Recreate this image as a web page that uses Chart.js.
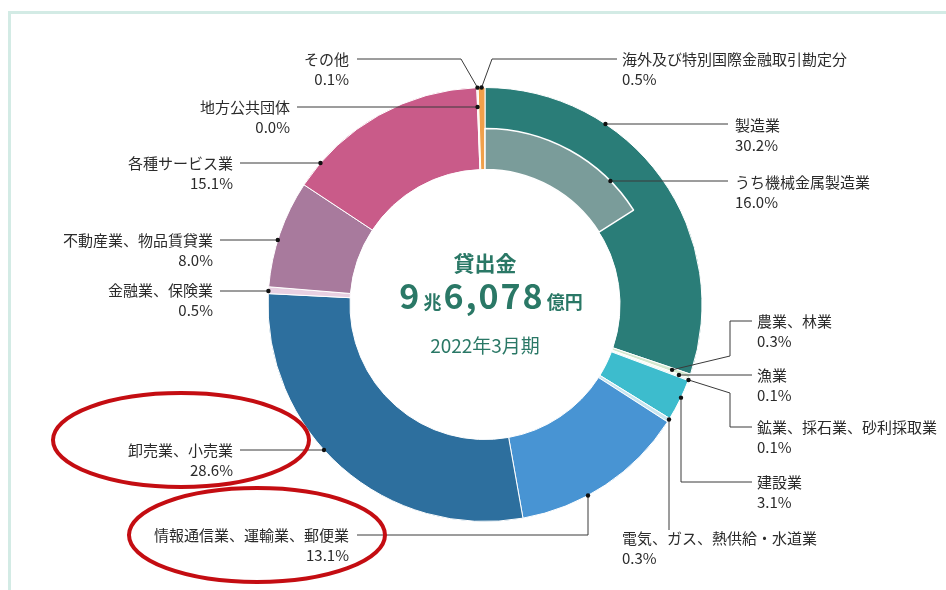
<!DOCTYPE html>
<html lang="ja">
<head>
<meta charset="utf-8">
<title>貸出金 業種別構成比</title>
<script src="https://cdn.jsdelivr.net/npm/chart.js@4.4.1/dist/chart.umd.min.js"></script>
<style>
  html, body { margin: 0; padding: 0; background: #fff; }
  #wrap { position: relative; width: 946px; height: 590px; overflow: hidden; }
  #frame { position: absolute; left: 8px; top: 11px; width: 980px; height: 620px; border: 3px solid #d3ebe5; }
  canvas { position: absolute; left: 0; top: 0; }
</style>
</head>
<body>
<div id="wrap">
  <div id="frame"></div>
  <canvas id="kashidashi" width="946" height="590"></canvas>
</div>
<script>
// 業種 (時計回り、真上から)
var gyoshu = [
  "製造業",
  "農業、林業",
  "漁業",
  "鉱業、採石業、砂利採取業",
  "建設業",
  "電気、ガス、熱供給・水道業",
  "情報通信業、運輸業、郵便業",
  "卸売業、小売業",
  "金融業、保険業",
  "不動産業、物品賃貸業",
  "各種サービス業",
  "地方公共団体",
  "その他",
  "海外及び特別国際金融取引勘定分"
]
var kousei = [30.2, 0.3, 0.1, 0.1, 3.1, 0.3, 13.1, 28.6, 0.5, 8.0, 15.1, 0.0, 0.1, 0.5]
var iro = [
  "#2a7d78", "#d3e8cf", "#e6ebc8", "#cde6dc", "#3dbccd", "#c8e6f0", "#4894d3",
  "#2d6f9e", "#e8d0e2", "#a87a9d", "#c95b89", "#f2d5e2", "#f6e4d8", "#f0a04a"
]

// 製造業のうち
var uchiLabel = "うち機械金属製造業"
var uchiValue = 16.0
var uchiIro = "#7a9c9a"

// 中央の表示
var midashi = "貸出金"
var kingaku = [["9", "big"], ["兆", "small"], ["6,078", "big"], ["億円", "small"]]
var kikan = "2022年3月期"

var total = kousei.reduce(function (a, b) { return a + b }, 0)

// ring sizes (px)
var R_SOTO = 217
var R_UCHI = 176
var R_ANA = 135

var FONT = '"Noto Sans CJK JP", "Noto Sans", sans-serif'
var MIDORI = "#2a7866"

// callouts: where the dot sits and how the line runs to the text
var hikidashi = [
  { i: 0, ten: ["h", 124], michi: [[728, 124]], x: 735, y: 125, align: "left" },
  { i: "uchi", ten: ["h", 181], michi: [[728, 181]], x: 735, y: 182, align: "left" },
  { i: 1, ten: ["ray", 0.77], michi: [[730, 356], [730, 321], [752, 321]], x: 757, y: 321, align: "left" },
  { i: 2, ten: ["rayH", 375], michi: [[752, 375]], x: 757, y: 375, align: "left" },
  { i: 3, ten: ["ray", 1], michi: [[730, 393], [730, 427], [752, 427]], x: 757, y: 427, align: "left" },
  { i: 4, ten: ["v", 681], michi: [[681, 482], [752, 482]], x: 757, y: 482, align: "left" },
  { i: 5, ten: ["v", 669], michi: [[669, 530]], x: 622, y: 538, align: "left" },
  { i: 6, ten: ["v", 588], michi: [[588, 535], [357, 535]], x: 349, y: 535, align: "right" },
  { i: 7, ten: ["h", 450], michi: [[240, 450]], x: 233, y: 450, align: "right" },
  { i: 8, ten: ["h", 291], michi: [[220, 291]], x: 213, y: 290, align: "right" },
  { i: 9, ten: ["h", 240], michi: [[220, 240]], x: 213, y: 240, align: "right" },
  { i: 10, ten: ["h", 163], michi: [[240, 163]], x: 233, y: 163, align: "right" },
  { i: 11, ten: ["rayH", 107], michi: [[297, 107]], x: 290, y: 107, align: "right" },
  { i: 12, ten: ["ray", 1], michi: [[461, 59], [357, 59]], x: 349, y: 59, align: "right" },
  { i: 13, ten: ["ray", 1], michi: [[492, 59], [617, 59]], x: 622, y: 59, align: "left" }
]

// red marks
var maru = [[181, 440, 128, 47], [257, 535, 128, 47]]

function tenWo(arc, ten) {
  var mid = (arc.startAngle + arc.endAngle) / 2
  var mode = ten[0], v = ten[1]
  if (mode === "h") {
    var dy = v - arc.y
    var dx = Math.sqrt(arc.outerRadius * arc.outerRadius - dy * dy)
    return { x: arc.x + (Math.cos(mid) >= 0 ? dx : -dx), y: v }
  }
  if (mode === "v") {
    var ddx = v - arc.x
    var ddy = Math.sqrt(arc.outerRadius * arc.outerRadius - ddx * ddx)
    return { x: v, y: arc.y + (Math.sin(mid) >= 0 ? ddy : -ddy) }
  }
  if (mode === "rayH") {
    var r = (v - arc.y) / Math.sin(mid)
    return { x: arc.x + r * Math.cos(mid), y: v }
  }
  var rr = arc.innerRadius + v * (arc.outerRadius - arc.innerRadius)
  return { x: arc.x + rr * Math.cos(mid), y: arc.y + rr * Math.sin(mid) }
}

var bunrui = {
  id: "bunrui",
  afterDatasetsDraw: function (chart) {
    var ctx = chart.ctx
    var main = chart.getDatasetMeta(1).data
    var uchi = chart.getDatasetMeta(0).data[0]
    ctx.save()
    hikidashi.forEach(function (h) {
      var arc = h.i === "uchi" ? uchi : main[h.i]
      var p = tenWo(arc, h.ten)
      ctx.strokeStyle = "#3a3a3a"
      ctx.lineWidth = 1
      ctx.beginPath()
      ctx.moveTo(p.x, p.y)
      h.michi.forEach(function (q) { ctx.lineTo(q[0], q[1]) })
      ctx.stroke()
      ctx.fillStyle = "#111"
      ctx.beginPath()
      ctx.arc(p.x, p.y, 2.2, 0, Math.PI * 2)
      ctx.fill()

      var name = h.i === "uchi" ? uchiLabel : gyoshu[h.i]
      var val = h.i === "uchi" ? uchiValue : kousei[h.i]
      ctx.fillStyle = "#2b2b2b"
      ctx.font = "15px " + FONT
      ctx.textAlign = h.align
      ctx.textBaseline = "middle"
      ctx.fillText(name, h.x, h.y)
      ctx.fillText(val.toFixed(1) + "%", h.x, h.y + 20)
    })

    // center
    var cx = main[0].x, cy = main[0].y
    ctx.fillStyle = MIDORI
    ctx.textAlign = "center"
    ctx.textBaseline = "middle"
    ctx.font = "bold 21px " + FONT
    ctx.fillText(midashi, cx, cy - 41)
    ctx.font = "19px " + FONT
    ctx.fillText(kikan, cx, cy + 41)

    ctx.textAlign = "left"
    ctx.textBaseline = "alphabetic"
    var fonts = { big: "bold 34px " + FONT, small: "bold 18px " + FONT }
    var aida = { big: "2px", small: "0px" }
    var w = 0
    kingaku.forEach(function (k) {
      ctx.font = fonts[k[1]]
      ctx.letterSpacing = aida[k[1]]
      w += ctx.measureText(k[0]).width + 2
    })
    var x = cx + 7 - w / 2
    kingaku.forEach(function (k) {
      ctx.font = fonts[k[1]]
      ctx.letterSpacing = aida[k[1]]
      ctx.fillText(k[0], x, cy + 4)
      x += ctx.measureText(k[0]).width + 2
    })
    ctx.letterSpacing = "0px"

    ctx.strokeStyle = "#c40d12"
    ctx.lineWidth = 4
    maru.forEach(function (m) {
      ctx.beginPath()
      ctx.ellipse(m[0], m[1], m[2], m[3], 0, 0, Math.PI * 2)
      ctx.stroke()
    })
    ctx.restore()
  }
}

var el = document.getElementById("kashidashi")
var chart = new Chart(el, {
  type: "doughnut",
  data: {
    labels: gyoshu,
    datasets: [
      {
        label: uchiLabel,
        data: [uchiValue, total - uchiValue],
        backgroundColor: [uchiIro, "rgba(0,0,0,0)"],
        borderColor: "#ffffff",
        borderWidth: [1.5, 0],
        radius: R_UCHI,
        cutout: ((2 * R_ANA - R_UCHI) / R_UCHI * 100) + "%"
      },
      {
        label: "構成比",
        data: kousei,
        backgroundColor: iro,
        borderColor: "#ffffff",
        borderWidth: 1,
        radius: 2 * R_SOTO - R_ANA,
        cutout: (R_ANA / (2 * R_SOTO - R_ANA) * 100) + "%"
      }
    ]
  },
  options: {
    responsive: false,
    animation: false,
    events: [],
    layout: { padding: { left: 24, right: 0, top: 19, bottom: 0 } },
    plugins: {
      legend: { display: false },
      tooltip: { enabled: false }
    }
  },
  plugins: [bunrui]
})
</script>
</body>
</html>
